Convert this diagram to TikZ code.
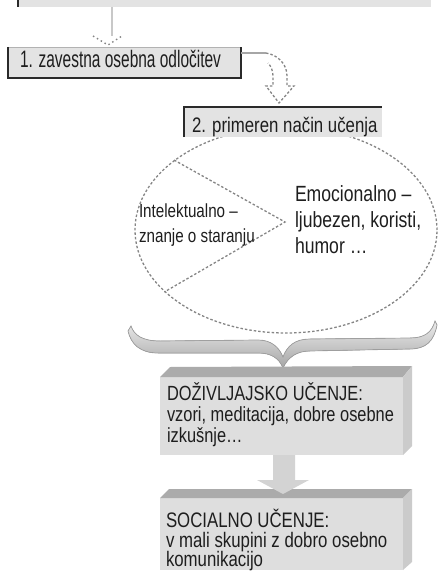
\documentclass[tikz,border=0pt]{standalone}
\usepackage{fontspec}
\setmainfont{Liberation Sans}
\newfontfamily\fa[FakeStretch=0.65]{Liberation Sans}
\newfontfamily\fb[FakeStretch=0.8]{Liberation Sans}
\usetikzlibrary{shapes.geometric,calc}
\definecolor{boxfill}{HTML}{E3E3E3}
\definecolor{edge}{HTML}{2A2A2A}
\definecolor{txt}{HTML}{1E1E1E}
\definecolor{dashc}{HTML}{858585}
\definecolor{frontc}{HTML}{DEDEDE}
\definecolor{topc}{HTML}{ABABAB}
\definecolor{sidec}{HTML}{CBCBCB}
\definecolor{arrowc}{HTML}{D3D3D3}
\definecolor{lightl}{HTML}{C8C8C8}
\tikzset{
  flatbox/.style={rectangle, fill=boxfill, inner sep=0, outer sep=0},
  frontbox/.style={rectangle, fill=frontc, inner sep=0, outer sep=0},
  lbl/.style={anchor=base west, inner sep=0, outer sep=0, text=txt},
  dashln/.style={draw=dashc, dash pattern=on 2.5pt off 2pt, line width=1.3},
  dotln/.style={draw=dashc, dash pattern=on 1.5pt off 3pt, line width=1.4},
}
\begin{document}
\begin{tikzpicture}[x=1pt,y=-1pt]
\useasboundingbox (0,0) rectangle (437,575);

% top bar
\node[flatbox, anchor=north west, minimum width=413, minimum height=10] (top) at (18,-3) {};
\draw[edge, line width=2.5] (top.north west) -- (top.south west);

% box 1
\node[flatbox, anchor=north west, minimum width=233, minimum height=31] (b1) at (8,47) {};
\draw[gray!60, line width=0.8] (b1.north west) -- (b1.north east);
\draw[edge, line width=2.6, line join=miter] (b1.north west) -- (b1.south west) -- (b1.south east) -- (b1.north east);
\node[lbl, font=\fa\fontsize{23.8}{26}\selectfont] (t1) at (20,68) {1. zavestna osebna odločitev};

% connector top -> box 1
\coordinate (c1) at (112,36);
\draw[lightl, line width=1.3] (c1 |- top.south) -- (c1);
\coordinate (c1t) at ($(c1 |- b1.north)+(-4,-2)$);
\draw[dotln] ($(c1t)+(-15,-9)$) -- (c1t) -- ($(c1t)+(14,-9)$);

% ellipse
\node[ellipse, dashln, minimum width=302, minimum height=206, inner sep=0] (el) at (286,230) {};
\coordinate (apex) at (285,222);
\draw[dashln] (el.148) -- (apex) -- (el.207);

% box 2
\node[flatbox, anchor=north west, minimum width=198, minimum height=30] (b2) at (184,107) {};
\draw[edge, line width=2.5, line join=miter] (b2.south west) -- (b2.north west) -- (b2.north east);
\node[lbl, font=\fb\fontsize{21}{24}\selectfont] (t2) at (192,132) {2. primeren način učenja};

% connector box 1 -> box 2
\coordinate (c2a) at ($(b1.north east)+(0,6)$);
\coordinate (c2b) at ($(c2a)+(25,0)$);
\coordinate (c2t) at ($(b2.north west)+(95,-4)$);
\draw[gray!70, line width=1.2] (c2a) -- (c2b);
\draw[dashln] (c2b) .. controls ($(c2b)+(12,2)$) and ($(c2b)+(21,11)$) .. ($(c2b)+(21,23)$)
  -- ($(c2b)+(21,33)$) -- ($(c2b)+(28,33)$) -- (c2t) -- ($(c2b)+(0,33)$) -- ($(c2b)+(7,33)$) -- ($(c2b)+(7,23)$)
  .. controls ($(c2b)+(7,18)$) and ($(c2b)+(5,13)$) .. ($(c2b)+(2,10)$);

% texts in ellipse
\node[lbl, font=\fb\fontsize{19}{22}\selectfont] (e1) at (139,217) {Intelektualno –};
\node[lbl, font=\fb\fontsize{19}{22}\selectfont] (e2) at (139,242) {znanje o staranju};
\node[lbl, font=\fb\fontsize{22}{25}\selectfont] (e3) at (295,201) {Emocionalno –};
\node[lbl, font=\fb\fontsize{22}{25}\selectfont] (e4) at (295,227) {ljubezen, koristi,};
\node[lbl, font=\fb\fontsize{22}{25}\selectfont] (e5) at (295,253) {humor …};

% brace
\fill[top color=gray!15, bottom color=gray!70, draw=gray!75, line width=0.7]
  (131,326) .. controls (134,335) and (142,341) .. (160,341)
  -- (258,340) .. controls (271,340) and (279,347) .. (283,357)
  .. controls (287,346) and (295,339) .. (310,339)
  -- (410,338) .. controls (425,338) and (432,332) .. (435,321)
  -- (437,325) .. controls (434,341) and (426,349) .. (410,349)
  -- (310,351) .. controls (297,351) and (288,357) .. (283,368)
  .. controls (279,358) and (271,353) .. (258,353)
  -- (158,353) .. controls (140,353) and (131,344) .. (128,331) -- cycle;

% box 3 (3D)
\node[frontbox, anchor=north west, minimum width=243, minimum height=78] (b3) at (160,377) {};
\fill[topc] (b3.north west) -- ++(10,-10) -- ($(b3.north east)+(9,-11)$) -- (b3.north east) -- cycle;
\fill[sidec] (b3.north east) -- ++(9,-11) -- ($(b3.south east)+(9,-9)$) -- (b3.south east) -- cycle;
\node[lbl, font=\fb\fontsize{20.5}{23}\selectfont] (d1) at (167,400) {DOŽIVLJAJSKO UČENJE:};
\node[lbl, font=\fb\fontsize{20.5}{23}\selectfont] (d2) at (167,421) {vzori, meditacija, dobre osebne};
\node[lbl, font=\fb\fontsize{20.5}{23}\selectfont] (d3) at (167,442) {izkušnje…};

% box 4 (3D)
\node[frontbox, anchor=north west, minimum width=243, minimum height=72] (b4) at (160,498) {};
\fill[topc] (b4.north west) -- ++(9,-9) -- ($(b4.north east)+(9,-9)$) -- (b4.north east) -- cycle;
\fill[sidec] (b4.north east) -- ++(9,-9) -- ($(b4.south east)+(9,-8)$) -- (b4.south east) -- cycle;
\node[lbl, font=\fb\fontsize{21}{24}\selectfont] (s1) at (166,527) {SOCIALNO UČENJE:};
\node[lbl, font=\fb\fontsize{21}{24}\selectfont] (s2) at (166,547) {v mali skupini z dobro osebno};
\node[lbl, font=\fb\fontsize{21}{24}\selectfont] (s3) at (166,566) {komunikacijo};

% block arrow box 3 -> box 4
\coordinate (ab) at ($(b3.south)+(2.5,0)$);
\coordinate (at) at ($(b4.north)+(1.5,-4)$);
\fill[arrowc] ($(ab)+(-11,0)$) -- ($(ab)+(-11,25)$) -- ($(ab)+(-27,25)$) -- (at)
  -- ($(ab)+(25,25)$) -- ($(ab)+(11,25)$) -- ($(ab)+(11,0)$) -- cycle;
\end{tikzpicture}
\end{document}
